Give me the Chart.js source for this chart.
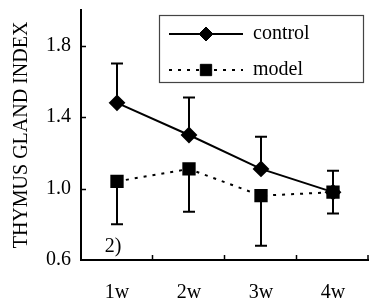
<!DOCTYPE html>
<html>
<head>
<meta charset="utf-8">
<script src="https://cdn.jsdelivr.net/npm/chart.js@4.4.0/dist/chart.umd.min.js"></script>
<style>
html,body{margin:0;padding:0;background:#fff;}
#wrap{width:369px;height:300px;}
</style>
</head>
<body>
<div id="wrap"><canvas id="myChart"></canvas></div>
<script>
var weeks = ['1w', '2w', '3w', '4w'];
var controlMean = [1.48, 1.30, 1.11, 0.98];
var controlErr = [0.22, 0.21, 0.18, 0.12];   // drawn upward
var modelMean = [1.04, 1.11, 0.96, 0.98];
var modelErr = [0.24, 0.24, 0.28, 0.12];     // drawn downward
var yTicks = [0.6, 1.0, 1.4, 1.8];
var panelNote = '2)';

var serif = 'Liberation Serif';

// error bars, under the markers
var errorBars = {
  id: 'errorBars',
  beforeDatasetsDraw: function (chart) {
    var ctx = chart.ctx, y = chart.scales.y;
    ctx.save();
    ctx.strokeStyle = '#000';
    ctx.lineWidth = 2;
    chart.data.datasets.forEach(function (ds, i) {
      var meta = chart.getDatasetMeta(i);
      meta.data.forEach(function (p, j) {
        var end = y.getPixelForValue(ds.data[j] + ds.errDir * ds.err[j]);
        ctx.beginPath();
        ctx.moveTo(p.x, p.y);
        ctx.lineTo(p.x, end);
        ctx.moveTo(p.x - 6, end);
        ctx.lineTo(p.x + 6, end);
        ctx.stroke();
      });
    });
    ctx.restore();
  }
};

// tick marks pointing into the plot, the note and the boxed legend
var extras = {
  id: 'extras',
  afterDraw: function (chart) {
    var ctx = chart.ctx, x = chart.scales.x, y = chart.scales.y, a = chart.chartArea;
    ctx.save();
    ctx.strokeStyle = '#000';
    ctx.lineWidth = 1.5;
    ctx.beginPath();
    for (var i = 1; i <= weeks.length; i++) {
      var px = Math.min(Math.round(x.getPixelForValue(i - 0.5)) - 0.5, a.right - 1);
      ctx.moveTo(px, a.bottom);
      ctx.lineTo(px, a.bottom - 5);
    }
    yTicks.slice(1).forEach(function (v) {
      var py = Math.round(y.getPixelForValue(v)) + 0.5;
      ctx.moveTo(a.left, py);
      ctx.lineTo(a.left + 5, py);
    });
    ctx.stroke();

    ctx.fillStyle = '#000';
    ctx.font = '20px "' + serif + '"';
    ctx.textAlign = 'center';
    ctx.textBaseline = 'middle';
    ctx.fillText(panelNote, x.getPixelForValue(0) - 4, y.getPixelForValue(0.673));

    // legend
    var bx = a.right - 210, by = a.top + 5, bw = 204, bh = 67;
    ctx.strokeStyle = '#444';
    ctx.lineWidth = 1.2;
    ctx.strokeRect(bx + 0.5, by + 0.5, bw, bh);
    ctx.textAlign = 'left';
    chart.data.datasets.forEach(function (ds, i) {
      var ry = by + 19 + i * 36;
      ctx.save();
      ctx.strokeStyle = '#000';
      ctx.lineWidth = 2;
      ctx.setLineDash(ds.borderDash || []);
      ctx.beginPath();
      ctx.moveTo(bx + 10, ry);
      ctx.lineTo(bx + 84, ry);
      ctx.stroke();
      ctx.restore();
      ctx.fillStyle = '#000';
      ctx.strokeStyle = '#000';
      ctx.lineWidth = 1;
      Chart.helpers.drawPoint(ctx, {pointStyle: ds.pointStyle, radius: ds.pointRadius, borderWidth: 1, rotation: 0}, bx + 47, ry);
      ctx.fillText(ds.label, bx + 94, ry);
    });
    ctx.restore();
  }
};

var myChart = new Chart(document.getElementById('myChart'), {
  type: 'line',
  data: {
    labels: weeks,
    datasets: [{
      label: 'control',
      data: controlMean,
      err: controlErr,
      errDir: 1,
      borderColor: '#000',
      borderWidth: 2,
      pointStyle: 'rectRot',
      pointRadius: 7,
      pointBackgroundColor: '#000',
      pointBorderColor: '#000',
      tension: 0
    }, {
      label: 'model',
      data: modelMean,
      err: modelErr,
      errDir: -1,
      borderColor: '#000',
      borderWidth: 2,
      borderDash: [3, 6],
      pointStyle: 'rect',
      pointRadius: 8,
      pointBackgroundColor: '#000',
      pointBorderColor: '#000',
      tension: 0
    }]
  },
  options: {
    responsive: true,
    maintainAspectRatio: false,
    animation: false,
    events: [],
    layout: { autoPadding: false, padding: { top: 10, right: 0, left: 0, bottom: 0 } },
    plugins: { legend: { display: false }, tooltip: { enabled: false } },
    scales: {
      x: {
        offset: true,
        grid: { offset: true, drawOnChartArea: false, drawTicks: true, tickLength: 21, tickColor: 'rgba(0,0,0,0)' },
        border: { color: '#000', width: 2 },
        ticks: { color: '#000', font: { family: serif, size: 20 }, padding: 0 },
        afterFit: function (s) { s.height = 40; s.paddingLeft = 0; s.paddingRight = 0; }
      },
      y: {
        min: 0.6,
        max: 2.0,
        afterBuildTicks: function (s) { s.ticks = yTicks.map(function (v) { return { value: v }; }); },
        grid: { drawOnChartArea: false, drawTicks: true, tickLength: 10, tickColor: 'rgba(0,0,0,0)' },
        border: { color: '#000', width: 2 },
        ticks: { color: '#000', font: { family: serif, size: 20 }, padding: 0,
          callback: function (v) { return v.toFixed(1); } },
        title: { display: true, text: 'THYMUS GLAND INDEX', color: '#000',
          font: { family: serif, size: 20 }, padding: { top: 10, bottom: 0 } },
        afterFit: function (s) { s.width = 81; s.paddingTop = 0; s.paddingBottom = 0; }
      }
    }
  },
  plugins: [errorBars, extras]
});
</script>
</body>
</html>
